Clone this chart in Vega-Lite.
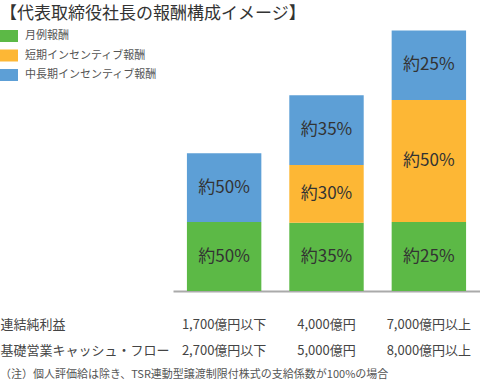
{
  "$schema": "https://vega.github.io/schema/vega-lite/v6.json",
  "padding": {"top": 5, "left": 0, "right": 0, "bottom": 0},
  "background": "white",
  "config": {"view": {"stroke": null}, "font": "Noto Sans CJK JP"},
  "title": {"text": "【代表取締役社長の報酬構成イメージ】", "anchor": "start", "frame": "bounds", "fontSize": 17, "fontWeight": "normal", "color": "#333333", "offset": 2},
  "data": {"values": [
    {"bar": "1,700億円以下|2,700億円以下", "seg": "月例報酬", "order": 1, "v": 50, "label": "約50%"},
    {"bar": "1,700億円以下|2,700億円以下", "seg": "中長期インセンティブ報酬", "order": 3, "v": 50, "label": "約50%"},
    {"bar": "4,000億円|5,000億円", "seg": "月例報酬", "order": 1, "v": 49.5, "label": "約35%"},
    {"bar": "4,000億円|5,000億円", "seg": "短期インセンティブ報酬", "order": 2, "v": 42, "label": "約30%"},
    {"bar": "4,000億円|5,000億円", "seg": "中長期インセンティブ報酬", "order": 3, "v": 50.5, "label": "約35%"},
    {"bar": "7,000億円以上|8,000億円以上", "seg": "月例報酬", "order": 1, "v": 50, "label": "約25%"},
    {"bar": "7,000億円以上|8,000億円以上", "seg": "短期インセンティブ報酬", "order": 2, "v": 88.5, "label": "約50%"},
    {"bar": "7,000億円以上|8,000億円以上", "seg": "中長期インセンティブ報酬", "order": 3, "v": 50.5, "label": "約25%"}
  ]},
  "vconcat": [
    {
      "width": 307,
      "height": 266,
      "title": {"text": "（注）個人評価給は除き、TSR連動型譲渡制限付株式の支給係数が100%の場合", "orient": "bottom", "anchor": "start", "frame": "bounds", "fontSize": 11, "fontWeight": "normal", "color": "#555555", "offset": 12},
      "encoding": {
        "x": {
          "field": "bar", "type": "nominal", "sort": null,
          "scale": {"paddingInner": 0.273, "paddingOuter": 0.136},
          "axis": {
            "labelExpr": "split(datum.value, '|')",
            "labelAngle": 0, "labelFontSize": 13, "labelColor": "#444444", "labelLineHeight": 26,
            "labelPadding": 27, "labelBaseline": "top", "ticks": false,
            "domainColor": "#aaaaaa", "domainWidth": 2,
            "title": ["連結純利益", "基礎営業キャッシュ・フロー"],
            "titleX": -173, "titleY": 27, "titleAlign": "left", "titleBaseline": "top",
            "titleFontSize": 13, "titleFontWeight": "normal", "titleColor": "#444444",
            "titleLineHeight": 26, "titleAngle": 0
          }
        }
      },
      "layer": [
        {
          "mark": {"type": "bar"},
          "encoding": {
            "y": {"field": "v", "type": "quantitative", "stack": "zero", "scale": {"domain": [0, 193], "nice": false}, "axis": null},
            "color": {
              "field": "seg", "type": "nominal",
              "scale": {"domain": ["月例報酬", "短期インセンティブ報酬", "中長期インセンティブ報酬"], "range": ["#5cb946", "#fdb735", "#5d9fd6"]},
              "legend": {"title": null, "orient": "none", "legendX": -173, "legendY": 5, "symbolType": "M-1,-1H2V1H-1Z", "symbolSize": 144, "symbolStrokeWidth": 0, "symbolOpacity": 1, "labelFontSize": 11, "labelColor": "#555555", "rowPadding": 7.5, "labelOffset": 13, "padding": 0}
            },
            "order": {"field": "order", "type": "quantitative"}
          }
        },
        {
          "transform": [
            {"stack": "v", "groupby": ["bar"], "sort": [{"field": "order"}], "as": ["v0", "v1"]},
            {"fold": ["v0", "v1"], "as": ["k", "pos"]}
          ],
          "mark": {"type": "text", "fontSize": 17, "color": "#333333"},
          "encoding": {
            "y": {"aggregate": "mean", "field": "pos", "type": "quantitative", "axis": null},
            "text": {"field": "label"},
            "detail": {"field": "seg"}
          }
        }
      ]
    }
  ]
}
